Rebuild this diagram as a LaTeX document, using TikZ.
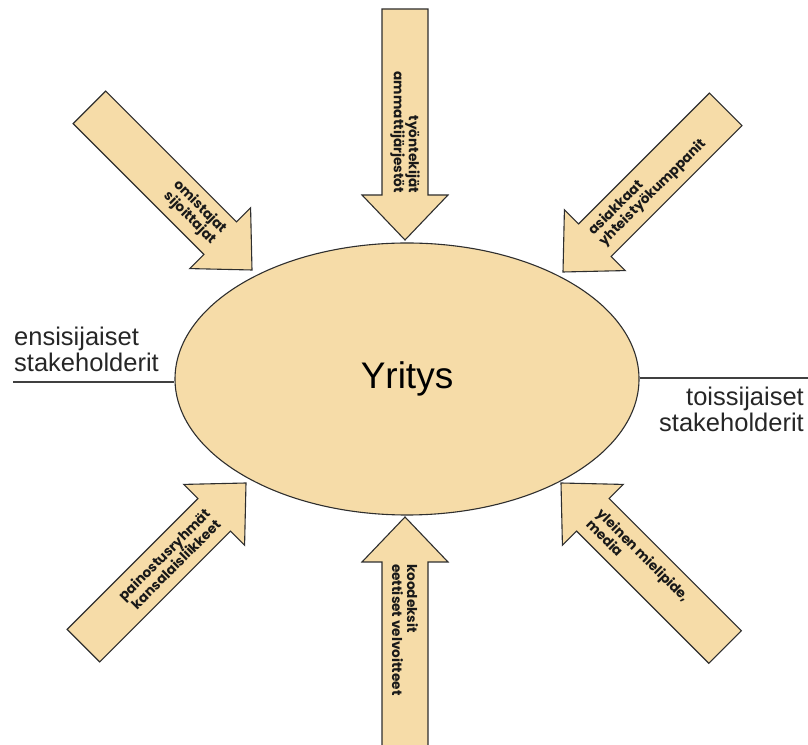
\documentclass[tikz,border=0pt]{standalone}
\usepackage{fontspec}
\setmainfont{Liberation Sans}
\newfontfamily\arrowfont{Poppins}
\usetikzlibrary{shapes.geometric}
\definecolor{tanfill}{HTML}{F6DCA8}
\definecolor{edge}{HTML}{2E2E2E}
\tikzset{
  arrowbody/.style={fill=tanfill, draw=edge, line width=1.1pt, line join=miter},
  arrowtext/.style={font=\arrowfont\bfseries\fontsize{13.6}{15}\selectfont, inner sep=0pt, transform shape, text=black!90},
  sidelabel/.style={font=\fontsize{25.5}{26}\selectfont, inner sep=0pt, text=black!85},
  sideline/.style={draw=black!75, line width=1.3pt},
}
% #1 tip x, #2 tip y (image coords), #3 angle, #4 length, #5 text node
\newcommand\fatarrow[5]{%
  \begin{scope}[shift={(#1,744-#2)}, rotate=#3]
    \draw[arrowbody] (0,0) -- (-45,43) -- (-45,23) -- (-#4,23) -- (-#4,-23) -- (-45,-23) -- (-45,-43) -- cycle;
    #5
  \end{scope}}
\begin{document}
\begin{tikzpicture}[x=1pt,y=1pt]
  \useasboundingbox (0,0) rectangle (808,744);
  % ellipse
  \node[ellipse, fill=tanfill, draw=edge, line width=1.1pt, minimum width=464pt, minimum height=272pt, inner sep=0pt,
        font=\fontsize{37}{40}\selectfont] (firm) at (407,744-379) {Yritys};
  % side lines and labels
  \coordinate (lend) at (13,744-382);
  \coordinate (rend) at (808,744-378);
  \draw[sideline] (lend) -- (lend -| firm.west);
  \draw[sideline] (firm.east |- rend) -- (rend);
  \node[sidelabel, anchor=north west, align=left] (prim) at (14,744-327) {ensisijaiset\\stakeholderit};
  \node[sidelabel, anchor=north east, align=right] (sec) at (804,744-387) {toissijaiset\\stakeholderit};
  % arrows
  \fatarrow{405}{240}{-90}{231}{\node[arrowtext, anchor=east, align=right] (t1) at (-47,0) {työntekijät\\ammattijärjestöt};}
  \fatarrow{252}{270}{-45}{230}{\node[arrowtext, anchor=east, align=right] (t2) at (-47,0) {omistajat\\sijoittajat};}
  \fatarrow{563}{272}{-135}{230}{\node[arrowtext, anchor=west, align=left, rotate=180] (t3) at (-47,0) {asiakkaat\\yhteistyökumppanit};}
  \fatarrow{246}{483}{45}{230}{\node[arrowtext, anchor=east, align=right] (t4) at (-47,0) {painostusryhmät\\kansalaisliikkeet};}
  \fatarrow{405}{517}{90}{245}{\node[arrowtext, anchor=west, align=left, rotate=180] (t5) at (-47,0) {koodeksit\\eettiset velvoitteet};}
  \fatarrow{561}{483}{135}{232}{\node[arrowtext, anchor=west, align=left, rotate=180] (t6) at (-47,0) {yleinen mielipide,\\media};}
\end{tikzpicture}
\end{document}
